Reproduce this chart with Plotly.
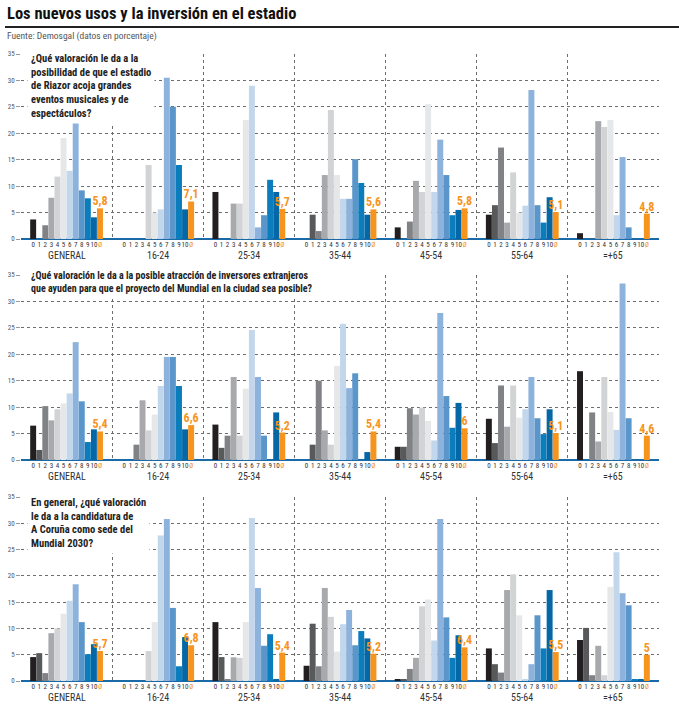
import plotly.graph_objects as go

W, H = 679, 712

groups = ["GENERAL", "16-24", "25-34", "35-44", "45-54", "55-64", "=+65"]
scores = ["0", "1", "2", "3", "4", "5", "6", "7", "8", "9", "10"]

# Panel 1: eventos musicales y espectáculos
p1_general = [3.7, 0, 2.6, 7.8, 11.8, 19.1, 12.9, 22.1, 9.2, 7.7, 4.1]
p1_16_24 = [0, 0, 0, 0, 14.0, 5.0, 5.6, 30.5, 25.0, 14.0, 5.6]
p1_25_34 = [8.9, 0, 0, 6.7, 6.7, 22.5, 29.0, 2.2, 4.5, 11.2, 8.9]
p1_35_44 = [0, 4.6, 1.5, 12.1, 24.4, 12.1, 7.6, 7.6, 15.1, 10.6, 4.6]
p1_45_54 = [2.2, 0, 3.3, 11.0, 8.9, 25.5, 8.9, 18.8, 12.1, 4.5, 5.5]
p1_55_64 = [4.6, 6.4, 17.3, 3.1, 12.6, 5.0, 6.3, 28.2, 6.4, 3.1, 7.9]
p1_65 = [1.1, 0, 0, 22.3, 21.2, 22.5, 4.5, 15.5, 2.2, 0, 0]
p1_avg = [5.8, 7.1, 5.7, 5.6, 5.8, 5.1, 4.8]

# Panel 2: inversores extranjeros
p2_general = [6.5, 1.9, 10.2, 7.5, 9.6, 10.7, 12.6, 22.3, 11.1, 3.4, 5.8]
p2_16_24 = [0, 0, 2.9, 11.3, 5.6, 8.6, 14.0, 19.5, 19.5, 14.0, 5.8]
p2_25_34 = [6.7, 2.3, 4.6, 15.7, 4.6, 13.5, 24.6, 15.7, 4.6, 0, 9.0]
p2_35_44 = [0, 2.9, 15.0, 5.6, 2.9, 17.8, 25.8, 13.6, 16.4, 0, 1.5]
p2_45_54 = [2.5, 2.5, 9.8, 8.6, 9.9, 7.4, 3.7, 27.8, 12.1, 6.1, 10.8]
p2_55_64 = [7.8, 3.2, 14.1, 6.3, 14.1, 8.0, 9.6, 15.7, 7.9, 4.9, 9.6]
p2_65 = [16.8, 0, 9.0, 3.5, 15.7, 9.1, 5.7, 33.4, 7.9, 0, 0]
p2_avg = [5.4, 6.6, 5.2, 5.4, 6, 5.1, 4.6]

# Panel 3: candidatura Mundial 2030
p3_general = [4.55, 5.3, 1.5, 9.1, 10.0, 12.8, 15.25, 18.4, 11.2, 5.1, 7.0]
p3_16_24 = [0, 0, 0, 0, 5.7, 11.2, 27.7, 30.8, 13.9, 2.8, 8.35]
p3_25_34 = [11.2, 4.55, 0.2, 4.5, 4.4, 11.2, 31.0, 17.7, 6.7, 8.9, 0.2]
p3_35_44 = [2.9, 10.9, 2.8, 17.7, 12.2, 5.6, 10.8, 13.5, 6.8, 9.5, 8.1]
p3_45_54 = [0.2, 0.2, 2.3, 4.4, 14.2, 15.5, 7.7, 30.8, 12.1, 4.4, 8.7]
p3_55_64 = [6.2, 3.2, 1.6, 17.3, 20.3, 12.5, 0.2, 3.2, 12.5, 6.2, 17.3]
p3_65 = [7.8, 10.1, 1.1, 6.7, 1.1, 17.9, 24.5, 16.7, 14.4, 0.2, 0.2]
p3_avg = [5.7, 6.8, 5.4, 5.2, 6.4, 5.5, 5]

panels = [
    [p1_general, p1_16_24, p1_25_34, p1_35_44, p1_45_54, p1_55_64, p1_65],
    [p2_general, p2_16_24, p2_25_34, p2_35_44, p2_45_54, p2_55_64, p2_65],
    [p3_general, p3_16_24, p3_25_34, p3_35_44, p3_45_54, p3_55_64, p3_65],
]
averages = [p1_avg, p2_avg, p3_avg]

questions = [
    "¿Qué valoración le da a la<br>posibilidad de que el estadio<br>de Riazor acoja grandes<br>eventos musicales y de<br>espectáculos?",
    "¿Qué valoración le da a la posible atracción de inversores extranjeros<br>que ayuden para que el proyecto del Mundial en la ciudad sea posible?",
    "En general, ¿qué valoración<br>le da a la candidatura de<br>A Coruña como sede del<br>Mundial 2030?",
]

score_colors = ["#231f20", "#58595b", "#808285", "#a7a9ac", "#d1d3d4", "#e6e7e8",
                "#c2d6ec", "#8db3dc", "#5a96c9", "#0b7dbd", "#0567a6"]
avg_color = "#f7941d"

FONT = "Roboto Condensed, Liberation Sans Narrow, DejaVu Sans Condensed, Roboto, sans-serif"

GROUP_W = 15
def slot_x(g, s):
    return GROUP_W * g + 2 + s

def py(px):
    return 1 - px / H

# pixel positions (zero line, top line) per panel
panel_px = [(239, 54), (460, 275), (681, 497)]
x_dom = [21 / W, 659 / W]

fig = go.Figure()
layout_axes = {}
annotations = []

tickvals = []
ticktext = []
for g in range(len(groups)):
    for s in range(12):
        tickvals.append(slot_x(g, s))
        ticktext.append(scores[s] if s < 11 else f"<span style='color:{avg_color}'>Ø</span>")

for p, (data, avgs) in enumerate(zip(panels, averages)):
    xa = "x" if p == 0 else f"x{p+1}"
    ya = "y" if p == 0 else f"y{p+1}"
    xs, ys, cs = [], [], []
    for g, vals in enumerate(data):
        for s, v in enumerate(vals):
            xs.append(slot_x(g, s))
            ys.append(v)
            cs.append(score_colors[s])
    fig.add_trace(go.Bar(x=xs, y=ys, marker=dict(color=cs, line=dict(width=0)),
                         width=0.98, xaxis=xa, yaxis=ya, showlegend=False,
                         hoverinfo="skip"))
    fig.add_trace(go.Bar(x=[slot_x(g, 11) for g in range(len(groups))], y=avgs,
                         marker=dict(color=avg_color, line=dict(width=0)),
                         width=0.98, xaxis=xa, yaxis=ya, showlegend=False,
                         texttemplate="%{y}", textposition="outside",
                         constraintext="none", cliponaxis=False,
                         textfont=dict(family=FONT, size=12, color=avg_color, weight="bold"),
                         hoverinfo="skip"))
    zero_px, top_px = panel_px[p]
    ydom = [py(zero_px), py(top_px)]
    xkey = "xaxis" if p == 0 else f"xaxis{p+1}"
    ykey = "yaxis" if p == 0 else f"yaxis{p+1}"
    layout_axes[xkey] = dict(
        domain=x_dom, range=[0, GROUP_W * len(groups)], anchor=ya, automargin=False,
        tickmode="array", tickvals=tickvals, ticktext=ticktext,
        tickfont=dict(family=FONT, size=7, color="#333"), tickangle=0,
        ticks="", showgrid=False, zeroline=False, showline=False,
        minor=dict(tickmode="array", tickvals=[GROUP_W * k for k in range(1, len(groups) + 1)],
                   showgrid=True, gridcolor="#6d6d6d", griddash="dot", gridwidth=1, ticks=""),
        fixedrange=True,
    )
    layout_axes[ykey] = dict(
        domain=ydom, range=[0, 35], anchor=xa, automargin=False,
        tickmode="array", tickvals=[0, 5, 10, 15, 20, 25, 30, 35],
        ticks="outside", ticklen=4, tickcolor="#999", tickwidth=1,
        tickfont=dict(family=FONT, size=7, color="#555"),
        showgrid=True, gridcolor="#6d6d6d", griddash="dot", gridwidth=1,
        zeroline=True, zerolinecolor="#1a6aa8", zerolinewidth=2,
        showline=False, fixedrange=True,
    )
    # group names
    for g, name in enumerate(groups):
        annotations.append(dict(x=GROUP_W * g + GROUP_W / 2, xref=xa,
                                y=py(zero_px + 16), yref="paper", yanchor="middle",
                                text=name, showarrow=False,
                                font=dict(family=FONT, size=10, color="#333")))

annotations.append(dict(x=27 / W, y=py(48), xref="paper", yref="paper", xanchor="left", yanchor="top",
                        text=questions[0], showarrow=False, align="left", bgcolor="white", borderpad=3,
                        font=dict(family=FONT, size=10.5, color="#222", weight="bold")))
annotations.append(dict(x=27 / W, y=py(266), xref="paper", yref="paper", xanchor="left", yanchor="top",
                        text=questions[1], showarrow=False, align="left", bgcolor="white", borderpad=3,
                        font=dict(family=FONT, size=10, color="#222", weight="bold")))
annotations.append(dict(x=27 / W, y=py(492), xref="paper", yref="paper", xanchor="left", yanchor="top",
                        text=questions[2], showarrow=False, align="left", bgcolor="white", borderpad=3,
                        font=dict(family=FONT, size=10.5, color="#222", weight="bold")))

# title and source
annotations.append(dict(x=5 / W, y=py(14), xref="paper", yref="paper", xanchor="left", yanchor="middle",
                        text="Los nuevos usos y la inversión en el estadio", showarrow=False,
                        font=dict(family=FONT, size=16.5, color="#111", weight="bold")))
annotations.append(dict(x=5 / W, y=py(36), xref="paper", yref="paper", xanchor="left", yanchor="middle",
                        text="Fuente: Demosgal (datos en porcentaje)", showarrow=False,
                        font=dict(family=FONT, size=9.5, color="#555")))

shapes = [dict(type="line", xref="paper", yref="paper", x0=5 / W, x1=1, y0=py(27), y1=py(27),
               line=dict(color="#222", width=2))]

fig.update_layout(
    width=W, height=H, margin=dict(l=0, r=0, t=0, b=0, autoexpand=False),
    paper_bgcolor="white", plot_bgcolor="white",
    barmode="overlay", separators=",.",
    annotations=annotations, shapes=shapes,
    font=dict(family=FONT),
    **layout_axes,
)

fig.write_html("out.html", config={"displayModeBar": False},
               post_script="document.body.style.margin='0';document.body.style.padding='0';")
